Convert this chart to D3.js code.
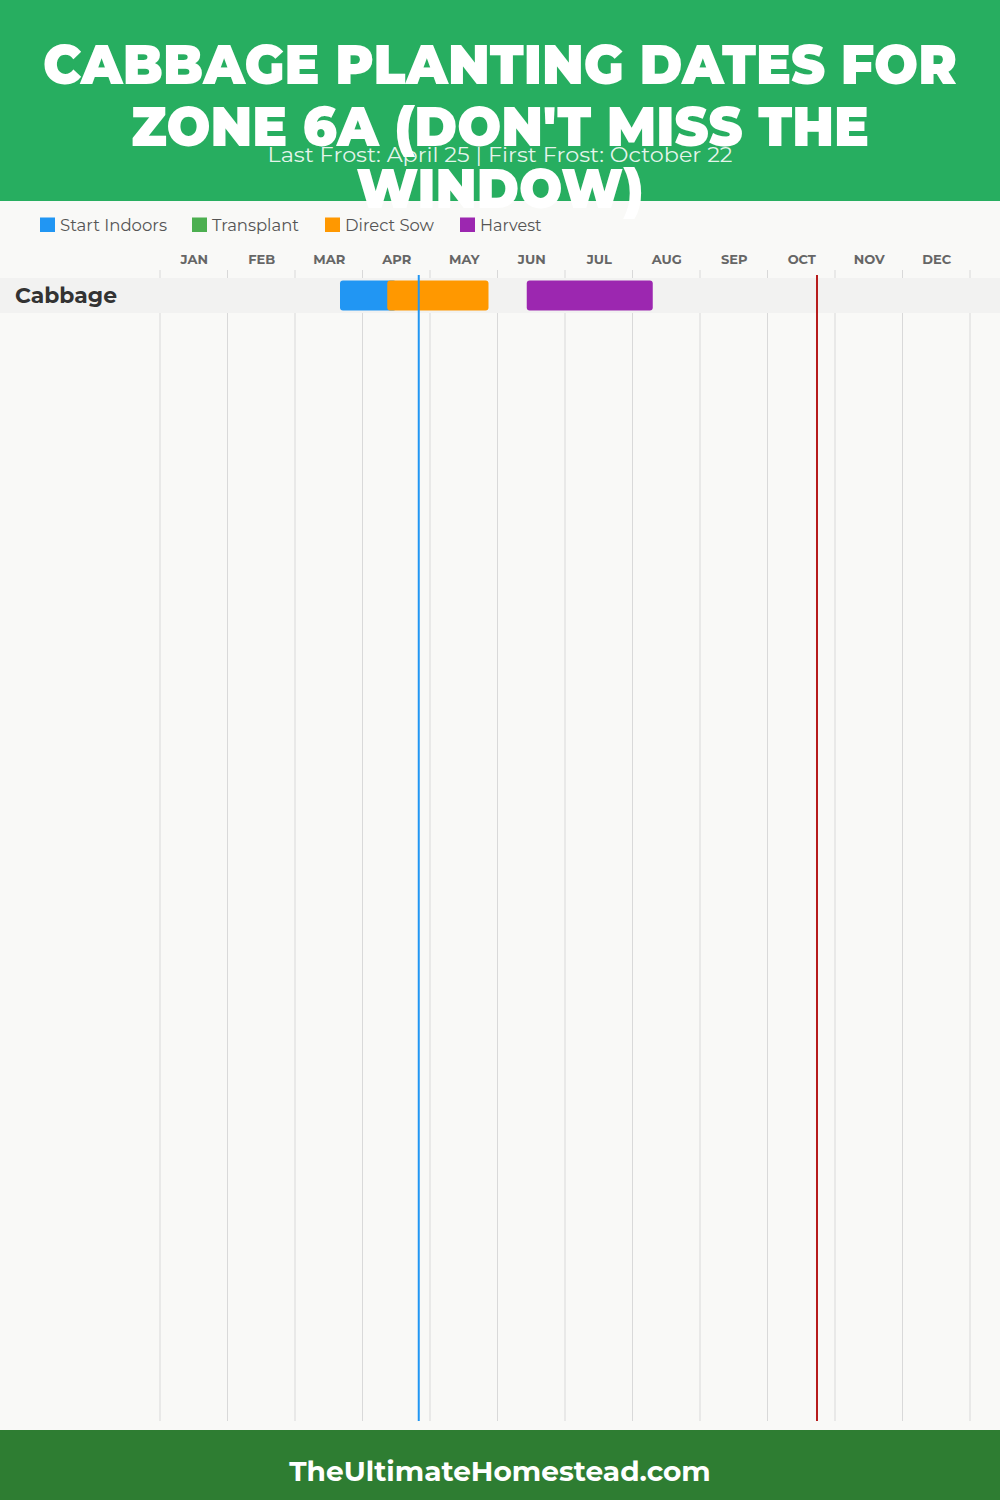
<!DOCTYPE html>
<html>
<head>
<meta charset="utf-8">
<script src="https://cdn.jsdelivr.net/npm/d3@7"></script>
<style>
  html, body { margin: 0; padding: 0; background: #f9f9f7; }
  svg { display: block; }
  text { font-family: Montserrat, Inter, "Open Sans", "Noto Sans", sans-serif; }
</style>
</head>
<body>
<svg id="chart" width="1000" height="1500"></svg>
<script>
// ---------------- DATA ----------------
const titleLines = ["CABBAGE PLANTING DATES FOR", "ZONE 6A (DON'T MISS THE", "WINDOW)"];
const subtitle = "Last Frost: April 25 | First Frost: October 22";
const footerText = "TheUltimateHomestead.com";

const months = ["JAN","FEB","MAR","APR","MAY","JUN","JUL","AUG","SEP","OCT","NOV","DEC"];
const crops = ["Cabbage"];

const phases = ["Start Indoors", "Transplant", "Direct Sow", "Harvest"];
const phaseColors = ["#2196F3", "#4CAF50", "#FF9800", "#9C27B0"];

// bar segments (month, day)
const barCrop  = ["Cabbage", "Cabbage", "Cabbage"];
const barPhase = ["Start Indoors", "Direct Sow", "Harvest"];
const barStart = [[3, 20], [4, 11], [6, 13]];
const barEnd   = [[4, 15], [5, 26], [8, 9]];

const lastFrost = [4, 25];
const firstFrost = [10, 22];

// ---------------- LAYOUT ----------------
const W = 1000, H = 1500;
const svg = d3.select("#chart");

const toMonth = md => (md[0] - 1) + md[1] / 30;
const x = d3.scaleLinear().domain([0, 12]).range([160, 970]);
const rowH = 35;
const y = d3.scaleBand().domain(crops).range([278, 278 + rowH * crops.length]).padding(0);
const color = d3.scaleOrdinal().domain(phases).range(phaseColors);

function fit(sel, width) {
  sel.each(function () {
    const w = this.getComputedTextLength();
    if (w > 0 && Math.abs(w - width) > 2) {
      d3.select(this).attr("textLength", width).attr("lengthAdjust", "spacingAndGlyphs");
    }
  });
  return sel;
}

// body background
svg.append("rect").attr("x", 0).attr("y", 0).attr("width", W).attr("height", H).attr("fill", "#f9f9f7");

// header
svg.append("rect").attr("x", 0).attr("y", 0).attr("width", W).attr("height", 201).attr("fill", "#27AE60");

// legend
const legendX = [40, 192, 325, 460];
const legendW = [107, 87, 89, 63];
const lg = svg.append("g").selectAll("g").data(phases).join("g")
  .attr("transform", (d, i) => `translate(${legendX[i]},0)`);
lg.append("rect").attr("x", 0).attr("y", 217.5).attr("width", 15).attr("height", 14.5)
  .attr("fill", d => color(d));
lg.append("text").attr("x", 20).attr("y", 231)
  .attr("font-size", 16).attr("fill", "#555").text(d => d)
  .each(function (d, i) { fit(d3.select(this), legendW[i]); });

// month labels (axis)
const axis = d3.axisTop(x)
  .tickValues(d3.range(12).map(i => i + 0.5))
  .tickFormat((d, i) => months[i])
  .tickSize(0).tickPadding(0);
const ax = svg.append("g").attr("transform", "translate(0,264)").call(axis);
ax.select(".domain").remove();
ax.selectAll("text")
  .attr("font-size", 13).attr("font-weight", 700).attr("fill", "#666")
  .attr("font-family", "Montserrat, Inter, 'Open Sans', sans-serif")
  .attr("dy", 0);

// grid lines
svg.append("g").selectAll("line").data(d3.range(13)).join("line")
  .attr("x1", d => x(d)).attr("x2", d => x(d))
  .attr("y1", 270).attr("y2", 1421)
  .attr("stroke", "#d9d9d9").attr("stroke-width", 1);

// row bands
svg.append("g").selectAll("rect").data(crops).join("rect")
  .attr("x", 0).attr("width", W)
  .attr("y", d => y(d)).attr("height", y.bandwidth())
  .attr("fill", "#f2f2f1");

// crop labels
svg.append("g").selectAll("text").data(crops).join("text")
  .attr("x", 15).attr("y", d => y(d) + y.bandwidth() / 2 + 7)
  .attr("font-size", 21).attr("font-weight", 700).attr("fill", "#333")
  .text(d => d)
  .each(function () { fit(d3.select(this), 102); });

// bars
const bars = barCrop.map((c, i) => ({ crop: c, phase: barPhase[i], s: toMonth(barStart[i]), e: toMonth(barEnd[i]) }));
svg.append("g").selectAll("rect").data(bars).join("rect")
  .attr("x", d => x(d.s)).attr("width", d => x(d.e) - x(d.s))
  .attr("y", d => y(d.crop) + 2.5).attr("height", y.bandwidth() - 5)
  .attr("rx", 3).attr("ry", 3)
  .attr("fill", d => color(d.phase));

// frost lines
svg.append("line")
  .attr("x1", x(toMonth(lastFrost))).attr("x2", x(toMonth(lastFrost)))
  .attr("y1", 275).attr("y2", 1421)
  .attr("stroke", "#2196F3").attr("stroke-width", 2);
svg.append("line")
  .attr("x1", x(toMonth(firstFrost))).attr("x2", x(toMonth(firstFrost)))
  .attr("y1", 275).attr("y2", 1421)
  .attr("stroke", "#B71C1C").attr("stroke-width", 2);

// title (drawn last in header area, overflowing like the reference)
const titleWidths = [914, 738, 287];
titleLines.forEach((t, i) => {
  const tx = svg.append("text")
    .attr("x", 500).attr("y", 84 + i * 62)
    .attr("text-anchor", "middle")
    .attr("fill", "#ffffff")
    .attr("font-size", 56)
    .attr("font-weight", 900)
    .text(t);
  fit(tx, titleWidths[i]);
});

fit(svg.append("text")
  .attr("x", 500).attr("y", 162)
  .attr("text-anchor", "middle")
  .attr("fill", "rgba(255,255,255,0.88)")
  .attr("font-size", 20)
  .attr("font-weight", 400)
  .text(subtitle), 465);

// footer
svg.append("rect").attr("x", 0).attr("y", 1430).attr("width", W).attr("height", 70).attr("fill", "#2E7D32");
fit(svg.append("text")
  .attr("x", 500).attr("y", 1481)
  .attr("text-anchor", "middle")
  .attr("fill", "#fff").attr("font-size", 28).attr("font-weight", 700)
  .text(footerText), 421);
</script>
</body>
</html>
